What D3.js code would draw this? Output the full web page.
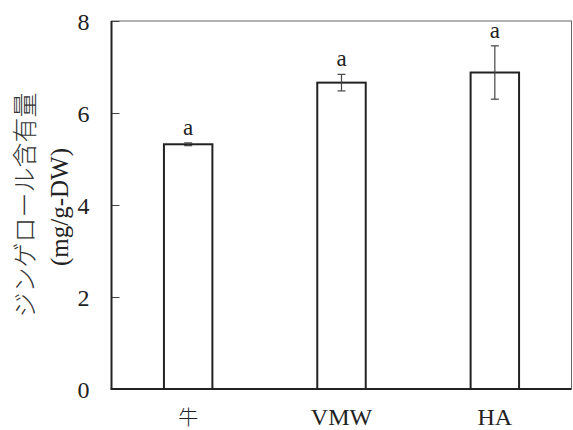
<!DOCTYPE html>
<html>
<head>
<meta charset="utf-8">
<script src="https://cdn.jsdelivr.net/npm/d3@7"></script>
<style>
  body { margin: 0; background: #fff; }
  svg { display: block; }
</style>
</head>
<body>
<svg id="chart" width="573" height="430"></svg>
<script>
const categories = ["牛", "VMW", "HA"];
const means = [5.32, 6.66, 6.88];
const errors = [0.03, 0.18, 0.58];
const letters = ["a", "a", "a"];
const yTicks = [0, 2, 4, 6, 8];

const W = 573, H = 430;
const margin = { top: 21, right: 1.5, bottom: 41, left: 111.5 };
const width = W - margin.left - margin.right;
const height = H - margin.top - margin.bottom;

const SERIF = "Liberation Serif";
const CJK = "Noto Sans CJK JP";

const data = categories.map((c, i) => ({ name: c, mean: means[i], err: errors[i], letter: letters[i] }));
const isLatin = s => /^[A-Za-z]/.test(s);

const svg = d3.select("#chart");

const chart = svg.append("g")
  .attr("transform", `translate(${margin.left},${margin.top})`);

const x = d3.scaleBand()
  .domain(categories)
  .range([0, width])
  .paddingInner(0.684)
  .paddingOuter(0.342);

const y = d3.scaleLinear()
  .domain([0, 8])
  .range([height, 0]);

// frame (top/right thin)
chart.append("rect")
  .attr("x", 0).attr("y", 0)
  .attr("width", width).attr("height", height)
  .attr("fill", "none")
  .attr("stroke", "#666")
  .attr("stroke-width", 1);

// bars
chart.selectAll(".bar")
  .data(data)
  .enter()
  .append("rect")
  .attr("class", "bar")
  .attr("x", d => x(d.name))
  .attr("y", d => y(d.mean))
  .attr("width", x.bandwidth())
  .attr("height", d => y(0) - y(d.mean))
  .attr("fill", "#fff")
  .attr("stroke", "#222")
  .attr("stroke-width", 2);

// error bars
const eb = chart.selectAll(".err")
  .data(data)
  .enter()
  .append("g")
  .attr("class", "err")
  .attr("stroke", "#444")
  .attr("stroke-width", 1.2);

eb.append("line")
  .attr("x1", d => x(d.name) + x.bandwidth() / 2)
  .attr("x2", d => x(d.name) + x.bandwidth() / 2)
  .attr("y1", d => y(d.mean - d.err))
  .attr("y2", d => y(d.mean + d.err));

[-1, 1].forEach(s => {
  eb.append("line")
    .attr("x1", d => x(d.name) + x.bandwidth() / 2 - 4)
    .attr("x2", d => x(d.name) + x.bandwidth() / 2 + 4)
    .attr("y1", d => y(d.mean + s * d.err))
    .attr("y2", d => y(d.mean + s * d.err));
});

// significance letters
chart.selectAll(".letter")
  .data(data)
  .enter()
  .append("text")
  .attr("class", "letter")
  .attr("x", d => x(d.name) + x.bandwidth() / 2)
  .attr("y", d => y(d.mean + d.err) - 8)
  .attr("text-anchor", "middle")
  .attr("font-family", SERIF)
  .attr("font-size", 23)
  .attr("fill", "#222")
  .text(d => d.letter);

// y axis
const yAxis = chart.append("g")
  .call(d3.axisLeft(y).tickValues(yTicks).tickSizeInner(-8).tickSizeOuter(0).tickPadding(22))
  .attr("font-family", SERIF)
  .attr("font-size", 24);
yAxis.select(".domain").remove();
yAxis.selectAll(".tick line").attr("stroke", "#444").attr("stroke-width", 1);
yAxis.selectAll(".tick text")
  .attr("fill", "#222")
  .attr("dy", "0.34em");

// x categories
chart.selectAll(".cat")
  .data(data)
  .enter()
  .append("text")
  .attr("class", "cat")
  .attr("x", d => x(d.name) + x.bandwidth() / 2)
  .attr("y", height + 36)
  .attr("text-anchor", "middle")
  .attr("font-family", d => isLatin(d.name) ? SERIF : CJK)
  .attr("font-weight", d => isLatin(d.name) ? 400 : 300)
  .attr("font-size", d => isLatin(d.name) ? 24 : 20)
  .attr("fill", "#222")
  .text(d => d.name);

// axis lines (left and bottom, heavier)
chart.append("line")
  .attr("x1", 0).attr("x2", 0)
  .attr("y1", 0).attr("y2", height)
  .attr("stroke", "#222").attr("stroke-width", 2);
chart.append("line")
  .attr("x1", -1).attr("x2", width)
  .attr("y1", height).attr("y2", height)
  .attr("stroke", "#222").attr("stroke-width", 2);

// y axis title
svg.append("text")
  .attr("transform", "translate(34,205) rotate(-90)")
  .attr("text-anchor", "middle")
  .attr("font-family", CJK)
  .attr("font-weight", 300)
  .attr("font-size", 25)
  .attr("fill", "#333")
  .text("ジンゲロール含有量");

svg.append("text")
  .attr("transform", "translate(68,207) rotate(-90)")
  .attr("text-anchor", "middle")
  .attr("font-family", SERIF)
  .attr("font-size", 25)
  .attr("fill", "#222")
  .text("(mg/g-DW)");
</script>
</body>
</html>
